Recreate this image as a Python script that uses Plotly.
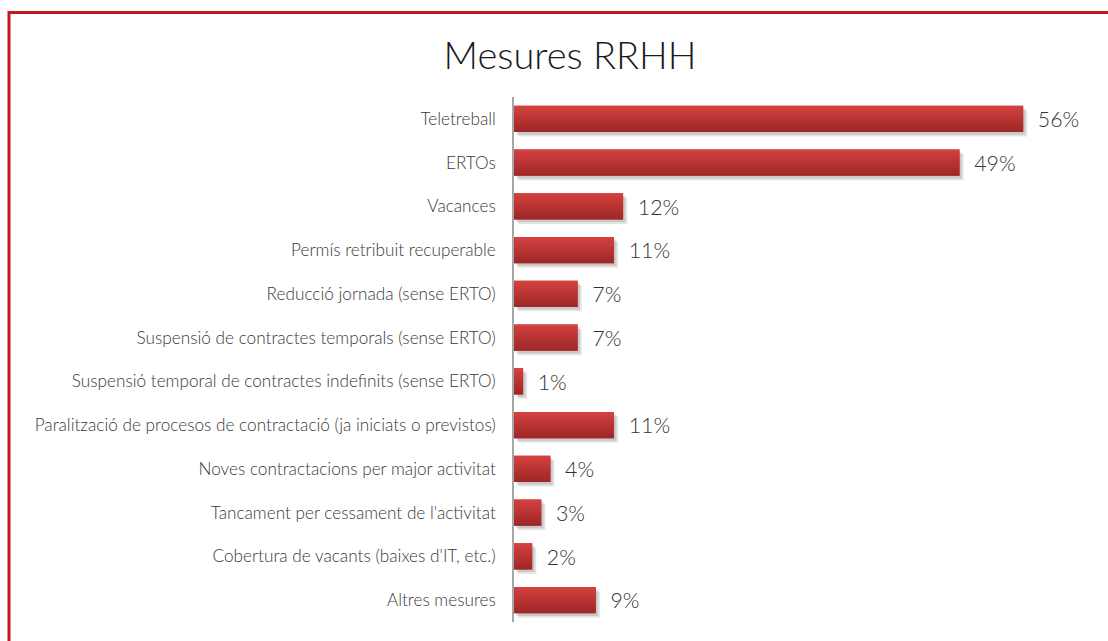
import plotly.graph_objects as go

# Data
categories = [
    "Teletreball",
    "ERTOs",
    "Vacances",
    "Permís retribuit recuperable",
    "Reducció jornada (sense ERTO)",
    "Suspensió de contractes temporals (sense ERTO)",
    "Suspensió temporal de contractes indefinits (sense ERTO)",
    "Paralització de procesos de contractació (ja iniciats o previstos)",
    "Noves contractacions per major activitat",
    "Tancament per cessament de l'activitat",
    "Cobertura de vacants (baixes d'IT, etc.)",
    "Altres mesures",
]
values = [56, 49, 12, 11, 7, 7, 1, 11, 4, 3, 2, 9]
labels = [f"\u00a0\u00a0{v}%" for v in values]

BAR_W = 0.6
N_STRIPS = 10
TOP_RGB = (211, 64, 62)
BOT_RGB = (158, 40, 40)

fig = go.Figure()

# soft drop shadow under each bar
for dx, dy, a in [(0.45, 0.10, 0.10), (0.25, 0.06, 0.12)]:
    fig.add_trace(go.Bar(
        y=categories, x=values, base=dx, orientation="h",
        width=BAR_W, offset=-BAR_W / 2 + dy,
        marker=dict(color=f"rgba(0,0,0,{a})", line=dict(width=0)),
        hoverinfo="skip", showlegend=False,
    ))

# base bar carrying the value labels
fig.add_trace(go.Bar(
    y=categories, x=values, orientation="h",
    width=BAR_W, offset=-BAR_W / 2,
    marker=dict(color="rgb(190,54,52)", line=dict(width=0)),
    text=labels, textposition="outside", cliponaxis=False,
    textfont=dict(family="Lato", size=22, color="#333333", weight=300),
    showlegend=False,
))

# vertical gradient built from thin strips
step = BAR_W / N_STRIPS
for k in range(N_STRIPS):
    t = k / (N_STRIPS - 1)
    r, g, b = (round(TOP_RGB[i] + (BOT_RGB[i] - TOP_RGB[i]) * t) for i in range(3))
    w = step * 1.15 if k < N_STRIPS - 1 else step
    fig.add_trace(go.Bar(
        y=categories, x=values, orientation="h",
        width=w, offset=-BAR_W / 2 + k * step,
        marker=dict(color=f"rgb({r},{g},{b})", line=dict(width=0)),
        hoverinfo="skip", showlegend=False,
    ))

fig.update_layout(
    width=1108, height=641,
    barmode="overlay",
    paper_bgcolor="white", plot_bgcolor="white",
    margin=dict(l=514, r=3, t=97, b=19),
    font=dict(family="Lato", color="#404040"),
    title=dict(
        text="Mesures RRHH", x=570 / 1108, xanchor="center", xref="container",
        y=1 - 56 / 641, yanchor="middle", yref="container",
        font=dict(family="Lato", size=38, color="#1a1a1a", weight=300),
    ),
    xaxis=dict(range=[0, 65], visible=False, fixedrange=True),
    yaxis=dict(
        autorange="reversed", showline=True, linecolor="#a6a6a6", linewidth=1.5,
        ticks="", ticklabelstandoff=13,
        tickfont=dict(family="Lato", size=17.2, color="#3a3a3a", weight=300),
        showgrid=False, zeroline=False,
    ),
    shapes=[dict(
        type="rect", xref="paper", yref="paper",
        x0=(9 - 514) / 591, x1=1.2, y0=-0.3, y1=1 + (97 - 12.5) / 525,
        line=dict(color="#c8161d", width=3), fillcolor="rgba(0,0,0,0)",
        layer="below",
    )],
)

fig.write_html("out.html")
